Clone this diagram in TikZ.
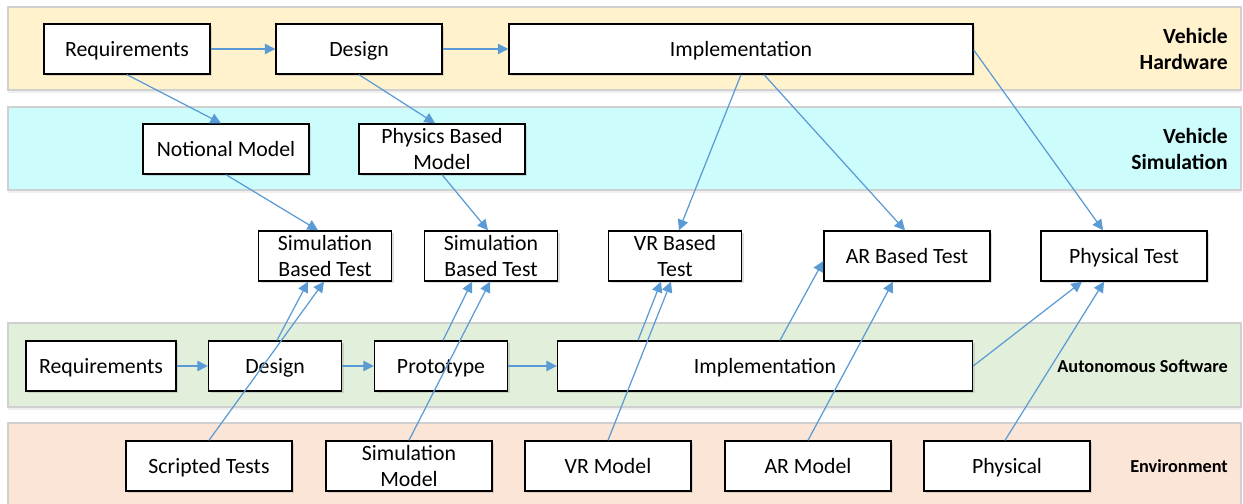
\documentclass[tikz,border=0pt]{standalone}
\usepackage{fontspec}
\setmainfont{Carlito}
\usetikzlibrary{shapes, arrows.meta, positioning, calc, shadows}

\definecolor{hwband}{HTML}{FFF2CC}
\definecolor{simband}{HTML}{CCFCFC}
\definecolor{swband}{HTML}{E2EFDA}
\definecolor{envband}{HTML}{FBE5D6}
\definecolor{bandline}{HTML}{D0D0D0}
\definecolor{linkblue}{HTML}{5B9BD5}

\begin{document}
\begin{tikzpicture}[
    cell/.style={rectangle, draw=black, fill=white, line width=0.8pt, minimum width=3.32cm, minimum height=1cm, align=center, font=\fontsize{12.4}{14.7}\selectfont, inner sep=1pt, drop shadow={shadow xshift=1.2pt, shadow yshift=-1.2pt, opacity=0.25}},
    box/.style={cell, text height=10pt, text depth=2pt},
    narrow/.style={box, minimum width=2.66cm},
    band/.style={draw=bandline, line width=0.6pt, drop shadow={shadow xshift=0pt, shadow yshift=-1.5pt, opacity=0.12}},
    biglabel/.style={anchor=east, align=right, font=\fontsize{12.3}{14.7}\selectfont\bfseries},
    smalllabel/.style={anchor=east, font=\fontsize{10.4}{12}\selectfont\bfseries},
    link/.style={-{Triangle[length=6pt, width=6pt]}, draw=linkblue, line width=0.7pt}
]
\useasboundingbox (0, 0) rectangle (24.86, 10.08);

% Bands
\fill[white] (0, 0) rectangle (24.86, 10.08);
\draw[band, fill=hwband] (0.16, 8.28) rectangle (24.82, 9.94);
\draw[band, fill=simband] (0.16, 6.28) rectangle (24.82, 7.94);
\draw[band, fill=swband] (0.16, 1.94) rectangle (24.82, 3.62);
\draw[band, fill=envband] (0.16, -0.3) rectangle (24.82, 1.62);

% Band labels
\node[biglabel] (hwlabel) at (24.68, 9.10) {Vehicle\\Hardware};
\node[biglabel] (simlabel) at (24.68, 7.10) {Vehicle\\Simulation};
\node[smalllabel] (swlabel) at (24.68, 2.76) {Autonomous Software};
\node[smalllabel] (envlabel) at (24.68, 0.76) {Environment};

% Vehicle hardware
\node[box] (hwreq) at (2.54, 9.10) {Requirements};
\node[box] (hwdesign) at (7.18, 9.10) {Design};
\node[box, minimum width=9.28cm] (hwimpl) at (14.82, 9.10) {Implementation};

% Vehicle simulation
\node[box] (notional) at (4.52, 7.10) {Notional Model};
\node[cell] (physics) at (8.84, 7.10) {Physics Based\\Model};

% Tests
\node[cell, minimum width=2.66cm] (simtestA) at (6.50, 4.96) {Simulation\\Based Test};
\node[cell, minimum width=2.66cm] (simtestB) at (9.82, 4.96) {Simulation\\Based Test};
\node[cell, minimum width=2.66cm] (vrtest) at (13.50, 4.96) {VR Based\\Test};
\node[box] (artest) at (18.14, 4.96) {AR Based Test};
\node[box] (phystest) at (22.48, 4.96) {Physical Test};

% Autonomous software
\node[box, minimum width=3cm] (swreq) at (2.02, 2.76) {Requirements};
\node[narrow] (swdesign) at (5.50, 2.76) {Design};
\node[narrow] (proto) at (8.82, 2.76) {Prototype};
\node[box, minimum width=8.3cm] (swimpl) at (15.30, 2.76) {Implementation};

% Environment
\node[box] (scripted) at (4.18, 0.76) {Scripted Tests};
\node[cell] (simmodel) at (8.18, 0.76) {Simulation\\Model};
\node[box] (vrmodel) at (12.16, 0.76) {VR Model};
\node[box] (armodel) at (16.16, 0.76) {AR Model};
\node[box] (physical) at (20.14, 0.76) {Physical};

% Process flow
\draw[link] (hwreq) -- (hwdesign);
\draw[link] (hwdesign) -- (hwimpl);
\draw[link] (swreq) -- (swdesign);
\draw[link] (swdesign) -- (proto);
\draw[link] (proto) -- (swimpl);

% Hardware to simulation and tests
\draw[link] (hwreq.south) -- ([xshift=-0.1cm]notional.north);
\draw[link] (hwdesign.south) -- ([xshift=-0.14cm]physics.north);
\draw[link] (notional.south) -- ([xshift=-0.14cm]simtestA.north);
\draw[link] (physics.south) -- ([xshift=-0.06cm]simtestB.north);
\draw[link] (hwimpl.south) -- ([xshift=0.08cm]vrtest.north);
\draw[link] ([xshift=0.46cm]hwimpl.south) -- ([xshift=-0.04cm]artest.north);
\draw[link] ([yshift=-0.02cm]hwimpl.east) -- ([xshift=-0.42cm]phystest.north);

% Software and environment to tests
\draw[link] ([xshift=0.04cm]swdesign.north) -- ([xshift=-0.34cm]simtestA.south);
\draw[link] (scripted.north) -- ([xshift=-0.02cm]simtestA.south);
\draw[link] ([xshift=0.04cm]proto.north) -- ([xshift=-0.38cm]simtestB.south);
\draw[link] (simmodel.north) -- ([xshift=-0.02cm]simtestB.south);
\draw[link] ([xshift=-2.54cm]swimpl.north) -- ([xshift=-0.28cm]vrtest.south);
\draw[link] (vrmodel.north) -- ([xshift=-0.08cm]vrtest.south);
\draw[link] ([xshift=0.30cm]swimpl.north) -- ([yshift=-0.1cm]artest.west);
\draw[link] (armodel.north) -- ([xshift=-0.28cm]artest.south);
\draw[link] (swimpl.east) -- ([xshift=-0.84cm]phystest.south);
\draw[link] ([xshift=-0.04cm]physical.north) -- ([xshift=-0.4cm]phystest.south);

\end{tikzpicture}
\end{document}
